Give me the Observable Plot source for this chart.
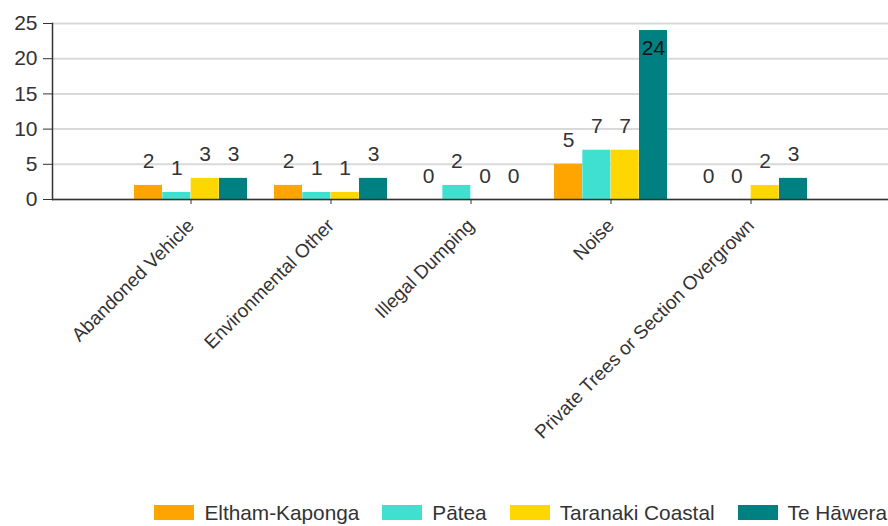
<!DOCTYPE html>
<html>
<head>
<meta charset="utf-8">
<script src="https://cdn.jsdelivr.net/npm/d3@7"></script>
<script src="https://cdn.jsdelivr.net/npm/@observablehq/plot@0.6"></script>
<style>
  html, body { margin: 0; padding: 0; background: #fff; }
  #chart { width: 888px; }
  .legend { display: flex; justify-content: flex-end; align-items: center; height: 33px; gap: 23px; padding-right: 1px;
    font-family: "Liberation Sans", Arial, sans-serif; font-size: 20.8px; color: #333; }
  .legend .item { display: flex; align-items: center; gap: 10px; }
  .legend .sw { width: 40px; height: 15px; display: inline-block; }
</style>
</head>
<body>
<div id="chart"></div>
<script>
const categories = ["Abandoned Vehicle", "Environmental Other", "Illegal Dumping", "Noise", "Private Trees or Section Overgrown"];
const series = ["Eltham-Kaponga", "Pātea", "Taranaki Coastal", "Te Hāwera"];
const elthamKaponga = [2, 2, 0, 5, 0];
const patea = [1, 1, 2, 7, 0];
const taranakiCoastal = [3, 1, 0, 7, 2];
const teHawera = [3, 3, 0, 24, 3];
const colors = ["orange", "turquoise", "gold", "teal"];
const yTicks = [0, 5, 10, 15, 20, 25];

const valuesBySeries = [elthamKaponga, patea, taranakiCoastal, teHawera];
const data = series.flatMap((s, i) => categories.map((c, j) => ({category: c, series: s, value: valuesBySeries[i][j], idx: i})));

const W = 888, H = 496, ML = 52, MR = 0, MT = 23, MB = 297;
const xOpts = {type: "band", domain: categories, paddingInner: 0.194, paddingOuter: 0.57, align: 0.5};
const xs = Plot.scale({x: {...xOpts, range: [ML, W - MR]}});
const bw = xs.bandwidth;
const n = series.length;
const font = "'Liberation Sans', Arial, sans-serif";

const marks = [
  Plot.gridY(yTicks, {stroke: "#d9d9d9", strokeOpacity: 1, strokeWidth: 2}),
];
series.forEach((s, i) => {
  const d = data.filter(r => r.series === s);
  marks.push(Plot.barY(d, {x: "category", y: "value", fill: colors[i], insetLeft: i * bw / n, insetRight: (n - 1 - i) * bw / n}));
});
series.forEach((s, i) => {
  const d = data.filter(r => r.series === s);
  const dx = (i - (n - 1) / 2) * bw / n;
  marks.push(Plot.text(d.filter(r => r.value < 23), {x: "category", y: "value", text: "value", dx, dy: -17, lineAnchor: "bottom", fontSize: 21, fill: "#333"}));
  marks.push(Plot.text(d.filter(r => r.value >= 23), {x: "category", y: "value", text: "value", dx, dy: 10, lineAnchor: "top", fontSize: 21, fill: "#111"}));
});
marks.push(
  Plot.ruleY([0], {stroke: "#333", strokeWidth: 1.5}),
  Plot.frame({anchor: "left", stroke: "#333", strokeWidth: 1.5}),
  Plot.axisY(yTicks, {tickSize: 9, tickPadding: 6, fontSize: 21, label: null, stroke: "#333", fill: "#333"}),
  Plot.axisX({tickRotate: -45, tickSize: 5, tickPadding: 18, fontSize: 19, label: null, stroke: "#333", fill: "#333"})
);

const plot = Plot.plot({
  width: W, height: H,
  marginLeft: ML, marginRight: MR, marginTop: MT, marginBottom: MB,
  style: {fontFamily: font, background: "#fff", color: "#333", overflow: "visible"},
  x: {...xOpts, label: null},
  y: {domain: [0, 25], label: null},
  marks
});
document.getElementById("chart").appendChild(plot);

const legend = document.createElement("div");
legend.className = "legend";
series.forEach((s, i) => {
  const item = document.createElement("span");
  item.className = "item";
  const sw = document.createElement("span");
  sw.className = "sw";
  sw.style.background = colors[i];
  const t = document.createElement("span");
  t.textContent = s;
  item.appendChild(sw);
  item.appendChild(t);
  legend.appendChild(item);
});
document.getElementById("chart").appendChild(legend);
</script>
</body>
</html>
